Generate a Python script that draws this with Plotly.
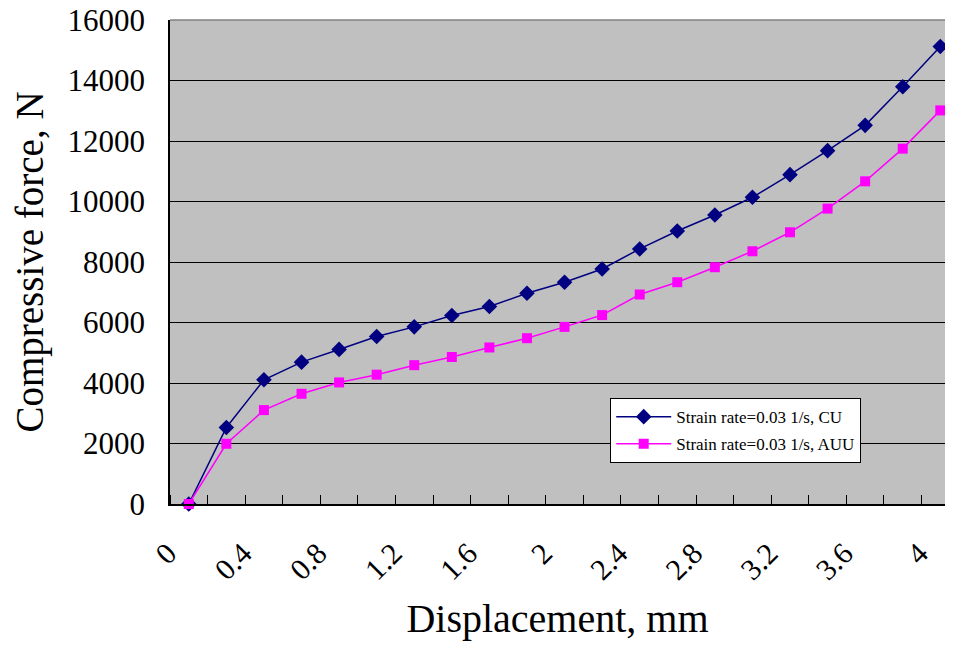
import plotly.graph_objects as go

displacement = [0.0, 0.2, 0.4, 0.6, 0.8, 1.0, 1.2, 1.4, 1.6, 1.8, 2.0,
                2.2, 2.4, 2.6, 2.8, 3.0, 3.2, 3.4, 3.6, 3.8, 4.0]
force_cu = [0, 2530, 4105, 4690, 5110, 5535, 5856, 6231, 6528, 6968, 7332,
            7770, 8432, 9026, 9555, 10139, 10888, 11681, 12517, 13794, 15125]
force_auu = [0, 1991, 3104, 3643, 4019, 4275, 4590, 4860, 5175, 5482, 5856,
             6245, 6925, 7332, 7827, 8355, 8983, 9765, 10667, 11747, 13012]
x_tick_vals = [0, 0.4, 0.8, 1.2, 1.6, 2.0, 2.4, 2.8, 3.2, 3.6, 4.0]
x_tick_text = ["0", "0.4", "0.8", "1.2", "1.6", "2", "2.4", "2.8", "3.2", "3.6", "4"]
y_tick_vals = [0, 2000, 4000, 6000, 8000, 10000, 12000, 14000, 16000]
y_tick_text = ["0", "2000", "4000", "6000", "8000", "10000", "12000", "14000", "16000"]

name_cu = "Strain rate=0.03 1/s, CU"
name_auu = "Strain rate=0.03 1/s, AUU"

FONT = "Liberation Serif, Times New Roman, serif"

# page body has an 8px margin, so the figure is sized to fit inside the window
W, H = 937, 633
L, T, B = 161.5, 11.5, 137

fig = go.Figure()
fig.add_trace(go.Scatter(
    x=displacement, y=force_cu, name=name_cu, mode="lines+markers",
    line=dict(color="#000080", width=1.5),
    marker=dict(symbol="diamond", size=12, color="#000080"),
    legendgroup="a", cliponaxis=False,
))
fig.add_trace(go.Scatter(
    x=displacement, y=force_auu, name=name_auu, mode="lines+markers",
    line=dict(color="#FF00FF", width=1.5),
    marker=dict(symbol="square", size=10, color="#FF00FF"),
    legendgroup="b", cliponaxis=False,
))

plot_w = W - L
plot_h = H - B - T

fig.update_layout(
    width=W, height=H,
    margin=dict(l=L, r=0, t=T, b=B),
    paper_bgcolor="white",
    plot_bgcolor="#C0C0C0",
    font=dict(family=FONT, color="black"),
    showlegend=True,
    legend=dict(
        x=(602 - L) / plot_w, y=((H - B) - 390) / plot_h,
        xanchor="left", yanchor="top",
        bgcolor="white", bordercolor="black", borderwidth=1,
        font=dict(family=FONT, size=17, color="black"),
        traceorder="grouped", tracegroupgap=2, itemwidth=55,
    ),
    xaxis=dict(
        range=[-0.1, -0.1 + plot_w / 188.0],
        automargin=False,
        tickmode="array", tickvals=x_tick_vals, ticktext=x_tick_text,
        tickangle=-45, ticks="", showgrid=False, zeroline=False,
        tickfont=dict(family=FONT, size=30, color="black"),
        ticklabelstandoff=18, ticklabelshift=-21,
        showline=True, linecolor="black", linewidth=1.5,
        minor=dict(tick0=0.1, dtick=0.2, ticks="inside", ticklen=9,
                   tickcolor="black", tickwidth=1, showgrid=False),
        title=dict(text="Displacement, mm", font=dict(family=FONT, size=40, color="black"),
                   standoff=20),
    ),
    yaxis=dict(
        range=[0, 16000],
        automargin=False,
        tickmode="array", tickvals=y_tick_vals, ticktext=y_tick_text,
        ticks="inside", ticklen=5, tickcolor="black",
        showgrid=True, gridcolor="black", gridwidth=1, zeroline=False,
        tickfont=dict(family=FONT, size=31, color="black"),
        ticklabelstandoff=17, ticklabeloverflow="allow",
        showline=True, linecolor="black", linewidth=1.5,
        title=dict(text="Compressive force, N", font=dict(family=FONT, size=39, color="black"),
                   standoff=12),
    ),
)

# grey plot-area border on top
fig.add_shape(type="line", xref="paper", yref="paper", x0=0, x1=1, y0=1, y1=1,
              line=dict(color="#808080", width=1.5))

fig.write_html("out.html")
